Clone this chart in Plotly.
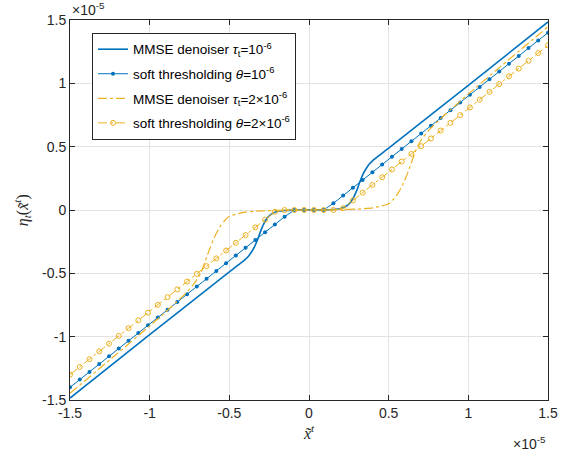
import numpy as np
import plotly.graph_objects as go

# ---------------- data (units of 1e-5) ----------------
# MMSE denoiser, tau_t = 1e-6
mmse1_x = [-1.5, -1.0, -0.5, -0.45, -0.40, -0.38, -0.36, -0.34, -0.32, -0.30, -0.28, -0.26,
           -0.23, -0.20, -0.15, -0.10, 0.0, 0.10, 0.15, 0.20, 0.23, 0.26, 0.28, 0.30, 0.32,
           0.34, 0.36, 0.38, 0.40, 0.45, 0.5, 1.0, 1.5]
mmse1_y = [-1.485, -0.984, -0.489, -0.44, -0.39, -0.365, -0.33, -0.285, -0.225, -0.155, -0.10, -0.06,
           -0.028, -0.012, -0.004, -0.001, 0.0, 0.001, 0.004, 0.012, 0.028, 0.06, 0.10, 0.155, 0.225,
           0.285, 0.33, 0.365, 0.39, 0.44, 0.489, 0.984, 1.485]

# MMSE denoiser, tau_t = 2e-6
mmse2_x = [-1.5, -1.2, -1.0, -0.93, -0.86, -0.80, -0.76, -0.72, -0.68, -0.65, -0.62, -0.59, -0.56,
           -0.53, -0.50, -0.45, -0.40, -0.30, -0.20, -0.10, 0.0, 0.10, 0.20, 0.30, 0.40, 0.45,
           0.50, 0.53, 0.56, 0.59, 0.62, 0.65, 0.68, 0.72, 0.76, 0.80, 0.86, 0.93, 1.0, 1.2, 1.5]
mmse2_y = [-1.447, -1.13, -0.915, -0.838, -0.76, -0.69, -0.64, -0.58, -0.50, -0.40, -0.295, -0.205, -0.135,
           -0.085, -0.05, -0.03, -0.017, -0.007, -0.003, -0.001, 0.0, 0.001, 0.003, 0.007, 0.017, 0.03,
           0.05, 0.085, 0.135, 0.205, 0.295, 0.40, 0.50, 0.58, 0.64, 0.69, 0.76, 0.838, 0.915, 1.13, 1.447]

# soft thresholding sample grid (50 samples over the axis range)
soft_x = np.linspace(-1.5, 1.5, 50)

# soft thresholding, theta = 1e-6
soft1_y = [-1.4, -1.339, -1.278, -1.216, -1.155, -1.094, -1.033, -0.971, -0.910, -0.849,
           -0.788, -0.727, -0.665, -0.604, -0.543, -0.482, -0.420, -0.359, -0.298, -0.237,
           -0.176, -0.114, -0.053, 0.0, 0.0, 0.0, 0.0, 0.053, 0.114, 0.176,
           0.237, 0.298, 0.359, 0.420, 0.482, 0.543, 0.604, 0.665, 0.727, 0.788,
           0.849, 0.910, 0.971, 1.033, 1.094, 1.155, 1.216, 1.278, 1.339, 1.4]

# soft thresholding, theta = 2e-6
soft2_y = [-1.3, -1.239, -1.178, -1.116, -1.055, -0.994, -0.933, -0.871, -0.810, -0.749,
           -0.688, -0.627, -0.565, -0.504, -0.443, -0.382, -0.320, -0.259, -0.198, -0.137,
           -0.076, -0.014, 0.0, 0.0, 0.0, 0.0, 0.0, 0.0, 0.014, 0.076,
           0.137, 0.198, 0.259, 0.320, 0.382, 0.443, 0.504, 0.565, 0.627, 0.688,
           0.749, 0.810, 0.871, 0.933, 0.994, 1.055, 1.116, 1.178, 1.239, 1.3]

tick_vals = [-1.5, -1, -0.5, 0, 0.5, 1, 1.5]
tick_text = ["-1.5", "-1", "-0.5", "0", "0.5", "1", "1.5"]

names = [
    "MMSE denoiser <i>τ</i><sub>t</sub>=10<sup>-6</sup>",
    "soft thresholding <i>θ</i>=10<sup>-6</sup>",
    "MMSE denoiser <i>τ</i><sub>t</sub>=2×10<sup>-6</sup>",
    "soft thresholding <i>θ</i>=2×10<sup>-6</sup>",
]

BLUE = "#0072BD"
YELLOW = "#EDB120"
FONT = "Liberation Sans, Arial, sans-serif"
SERIF = "Liberation Serif, DejaVu Serif, serif"

fig = go.Figure()
fig.add_trace(go.Scatter(x=mmse1_x, y=mmse1_y, mode="lines", name=names[0], legendgroup="a",
                         line=dict(color=BLUE, width=1.6, shape="spline", smoothing=0.6)))
fig.add_trace(go.Scatter(x=soft_x, y=soft1_y, mode="lines+markers", name=names[1], legendgroup="b",
                         line=dict(color=BLUE, width=1),
                         marker=dict(symbol="circle", size=4, color=BLUE)))
fig.add_trace(go.Scatter(x=mmse2_x, y=mmse2_y, mode="lines", name=names[2], legendgroup="c",
                         line=dict(color=YELLOW, width=1.2, dash="dashdot", shape="spline", smoothing=0.6)))
fig.add_trace(go.Scatter(x=soft_x, y=soft2_y, mode="lines+markers", name=names[3], legendgroup="d",
                         line=dict(color=YELLOW, width=1, dash="dashdot"),
                         marker=dict(symbol="circle-open", size=5, color=YELLOW, line=dict(width=1))))

axis_common = dict(
    range=[-1.5, 1.5], tickvals=tick_vals, ticktext=tick_text,
    showgrid=True, gridcolor="#e3e3e3", gridwidth=1,
    zeroline=False, showline=True, linecolor="#262626", linewidth=1,
    mirror="ticks", ticks="inside", ticklen=5, tickcolor="#262626",
    tickfont=dict(family=FONT, size=14, color="#262626"),
)

fig.update_layout(
    width=570, height=451,
    margin=dict(l=70, r=20, t=20, b=51),
    paper_bgcolor="white", plot_bgcolor="white",
    font=dict(family=FONT, size=13, color="#262626"),
    xaxis=axis_common, yaxis=axis_common,
    showlegend=True,
    legend=dict(x=0.046, y=0.966, xanchor="left", yanchor="top",
                bgcolor="white", bordercolor="#262626", borderwidth=1,
                font=dict(family=FONT, size=13.5, color="#000000"),
                itemwidth=30, tracegroupgap=4),
    annotations=[
        dict(text="×10<sup>-5</sup>", xref="paper", yref="paper", x=0.0, y=1.0,
             xanchor="left", yanchor="bottom", showarrow=False,
             font=dict(family=FONT, size=14, color="#262626")),
        dict(text="×10<sup>-5</sup>", xref="paper", yref="paper", x=1.0, y=-0.085,
             xanchor="right", yanchor="top", showarrow=False,
             font=dict(family=FONT, size=14, color="#262626")),
        dict(text="<i>x̃</i><sup><i>t</i></sup>", xref="paper", yref="paper", x=0.5, y=-0.084,
             xanchor="center", yanchor="middle", showarrow=False,
             font=dict(family=SERIF, size=16, color="#262626")),
        dict(text="<i>η</i><sub><i>t</i></sub>(<i>x̃</i><sup><i>t</i></sup>)", xref="paper", yref="paper",
             x=-0.1, y=0.5, xanchor="center", yanchor="middle", textangle=-90, showarrow=False,
             font=dict(family=SERIF, size=16, color="#262626")),
    ],
)

fig.write_html("out.html", config={"displayModeBar": False},
               post_script="document.body.style.margin='0';")
